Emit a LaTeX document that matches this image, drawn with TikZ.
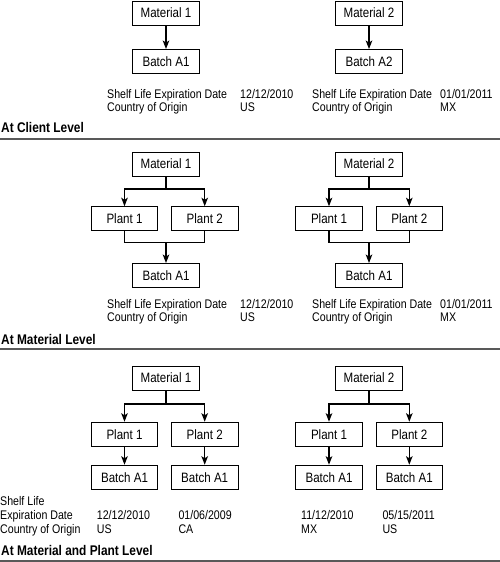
\documentclass[tikz,border=0pt]{standalone}
\usepackage{fontspec}
\setmainfont[FakeStretch=0.85]{Liberation Sans}
\usetikzlibrary{arrows.meta}
\begin{document}
\begin{tikzpicture}[x=1pt,y=-1pt,
 box/.style={draw,line width=0.9pt,minimum width=66.5pt,minimum height=24pt,inner sep=0pt,font=\fontsize{13.6}{13.6}\selectfont},
 conn/.style={line width=1.3pt,-{Stealth[length=8.5pt,width=6.5pt,inset=2pt]}},
 plain/.style={line width=1.3pt},
 info/.style={anchor=base west,inner sep=0pt,font=\fontsize{12.5}{13}\selectfont},
 head/.style={anchor=base west,inner sep=0pt,font=\fontsize{14}{14}\selectfont\bfseries},
 rulestyle/.style={line width=2pt,draw=black!65}]
\useasboundingbox (0,0) rectangle (500,562);

% ---------- Section 1: client level ----------
\node[box] (m1a) at (166,13) {Material 1};
\node[box] (b1a) at (166,61.5) {Batch A1};
\draw[conn] (m1a) -- (b1a);
\node[box] (m2a) at (369,13) {Material 2};
\node[box] (b2a) at (369,61.5) {Batch A2};
\draw[conn] (m2a) -- (b2a);

\node[info] (a1) at (107,98) {Shelf Life Expiration Date};
\node[info] (a2) at (107,111) {Country of Origin};
\node[info] (a3) at (240,98) {12/12/2010};
\node[info] (a4) at (240,111) {US};
\node[info] (a5) at (312,98) {Shelf Life Expiration Date};
\node[info] (a6) at (312,111) {Country of Origin};
\node[info] (a7) at (440,98) {01/01/2011};
\node[info] (a8) at (440,111) {MX};

\node[head] (h1) at (1,132.7) {At Client Level};
\coordinate (r1l) at (0,139);
\coordinate (r1r) at (500,139);
\draw[rulestyle] (r1l) -- (r1r);

% ---------- Section 2: material level ----------
\node[box] (m1b) at (166,164) {Material 1};
\node[box] (p1b) at (124.5,218.7) {Plant 1};
\node[box] (p2b) at (204.7,218.7) {Plant 2};
\node[box] (bb1) at (166,275.5) {Batch A1};
\coordinate (s2a) at (166,189);
\coordinate (j2a) at (166,242.3);
\draw[plain] (m1b) -- (s2a);
\draw[conn] (s2a) -| (p1b);
\draw[conn] (s2a) -| (p2b);
\draw[plain] (p1b) |- (j2a);
\draw[plain] (p2b) |- (j2a);
\draw[conn] (j2a) -- (bb1);

\node[box] (m2b) at (369,164) {Material 2};
\node[box] (p3b) at (329,218.7) {Plant 1};
\node[box] (p4b) at (409.3,218.7) {Plant 2};
\node[box] (bb2) at (369,275.5) {Batch A1};
\coordinate (s2b) at (369,189);
\coordinate (j2b) at (369,242.3);
\draw[plain] (m2b) -- (s2b);
\draw[conn] (s2b) -| (p3b);
\draw[conn] (s2b) -| (p4b);
\draw[plain] (p3b) |- (j2b);
\draw[plain] (p4b) |- (j2b);
\draw[conn] (j2b) -- (bb2);

\node[info] (c1) at (107,308) {Shelf Life Expiration Date};
\node[info] (c2) at (107,321) {Country of Origin};
\node[info] (c3) at (240,308) {12/12/2010};
\node[info] (c4) at (240,321) {US};
\node[info] (c5) at (312,308) {Shelf Life Expiration Date};
\node[info] (c6) at (312,321) {Country of Origin};
\node[info] (c7) at (440,308) {01/01/2011};
\node[info] (c8) at (440,321) {MX};

\node[head] (h2) at (1,344) {At Material Level};
\coordinate (r2l) at (0,349.3);
\coordinate (r2r) at (500,349.3);
\draw[rulestyle] (r2l) -- (r2r);

% ---------- Section 3: material and plant level ----------
\node[box] (m1c) at (166,378) {Material 1};
\node[box] (p1c) at (124.5,434.2) {Plant 1};
\node[box] (p2c) at (204.7,434.2) {Plant 2};
\node[box] (bc1) at (124.5,477.2) {Batch A1};
\node[box] (bc2) at (204.7,477.2) {Batch A1};
\coordinate (s3a) at (166,404);
\draw[plain] (m1c) -- (s3a);
\draw[conn] (s3a) -| (p1c);
\draw[conn] (s3a) -| (p2c);
\draw[conn] (p1c) -- (bc1);
\draw[conn] (p2c) -- (bc2);

\node[box] (m2c) at (369,378) {Material 2};
\node[box] (p3c) at (329,434.2) {Plant 1};
\node[box] (p4c) at (409.3,434.2) {Plant 2};
\node[box] (bc3) at (329,477.2) {Batch A1};
\node[box] (bc4) at (409.3,477.2) {Batch A1};
\coordinate (s3b) at (369,404);
\draw[plain] (m2c) -- (s3b);
\draw[conn] (s3b) -| (p3c);
\draw[conn] (s3b) -| (p4c);
\draw[conn] (p3c) -- (bc3);
\draw[conn] (p4c) -- (bc4);

\node[info] (e1) at (0,505) {Shelf Life};
\node[info] (e2) at (0,519.5) {Expiration Date};
\node[info] (e3) at (0,533.5) {Country of Origin};
\node[info] (e4) at (96.7,519.5) {12/12/2010};
\node[info] (e5) at (96.7,533.5) {US};
\node[info] (e6) at (178.3,519.5) {01/06/2009};
\node[info] (e7) at (178.3,533.5) {CA};
\node[info] (e8) at (301,519.5) {11/12/2010};
\node[info] (e9) at (301,533.5) {MX};
\node[info] (e10) at (382.3,519.5) {05/15/2011};
\node[info] (e11) at (382.3,533.5) {US};

\node[head] (h3) at (1,555.7) {At Material and Plant Level};
\coordinate (r3l) at (0,560.7);
\coordinate (r3r) at (500,560.7);
\draw[rulestyle] (r3l) -- (r3r);
\end{tikzpicture}
\end{document}
